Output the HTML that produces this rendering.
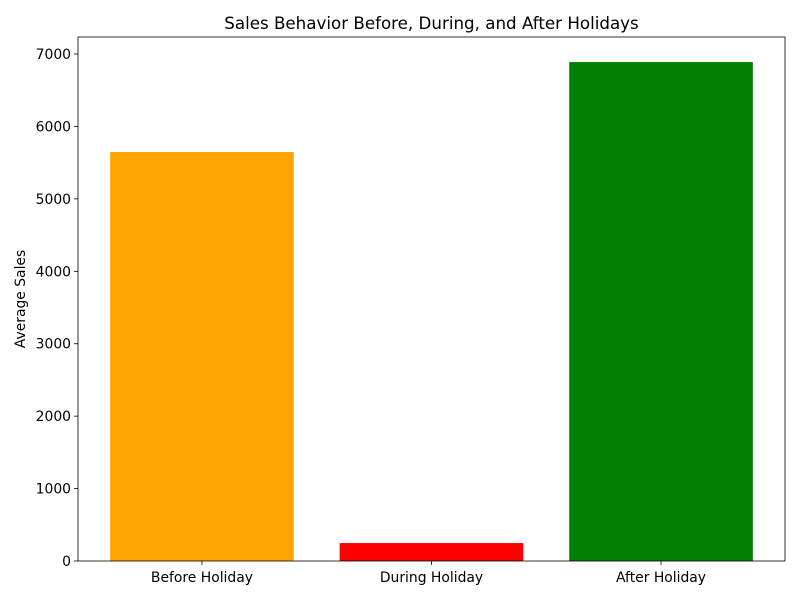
<!DOCTYPE html>
<html><head><meta charset="utf-8"><style>
body{margin:0;background:#fff;font-family:"DejaVu Sans","Liberation Sans",sans-serif}
svg text{font-family:"DejaVu Sans","Liberation Sans",sans-serif}
</style></head><body>
<svg id="chart" width="800" height="600" xmlns="http://www.w3.org/2000/svg"></svg>
<script>
const categories = ["Before Holiday","During Holiday","After Holiday"];
const values = [5647, 248, 6889];
const colors = ["orange","red","green"];
const yTicks = [0,1000,2000,3000,4000,5000,6000,7000];

const L=78,R=785,T=37,B=561;
const yMax=7235, xMin=-0.54, xMax=2.54;
const y=v=>B-(v/yMax)*(B-T);
const x=v=>L+(v-xMin)/(xMax-xMin)*(R-L);
const svg=document.getElementById('chart');
const NS='http://www.w3.org/2000/svg';
function mk(tag,attrs,text){const e=document.createElementNS(NS,tag);for(const k in attrs)e.setAttribute(k,attrs[k]);if(text!==undefined)e.textContent=text;svg.appendChild(e);return e;}

categories.forEach((c,i)=>{
  const r=mk('rect',{x:x(i-0.4),y:y(values[i]),width:x(i+0.4)-x(i-0.4),height:B-y(values[i]),fill:colors[i]});
  
  
  const t=mk('line',{x1:x(i),x2:x(i),y1:B,y2:B+4,stroke:'#000','stroke-width':0.8});
  
  
  const l=mk('text',{x:x(i),y:B+21,'text-anchor':'middle','font-size':13.9},c);
  
  
});
yTicks.forEach(v=>{
  const t=mk('line',{x1:L-4,x2:L,y1:y(v),y2:y(v),stroke:'#000','stroke-width':0.8});
  
  
  const l=mk('text',{x:L-7,y:y(v)+5,'text-anchor':'end','font-size':13.9},v);
  
  
});
const f=mk('rect',{x:L,y:T,width:R-L,height:B-T,fill:'none',stroke:'#000','stroke-width':0.8});


const tt=mk('text',{x:(L+R)/2,y:29,'text-anchor':'middle','font-size':16.7},'Sales Behavior Before, During, and After Holidays');


const yl=mk('text',{x:25,y:(T+B)/2,'text-anchor':'middle','font-size':13.9,transform:'rotate(-90 25 '+((T+B)/2)+')'},'Average Sales');


</script>
</body></html>
